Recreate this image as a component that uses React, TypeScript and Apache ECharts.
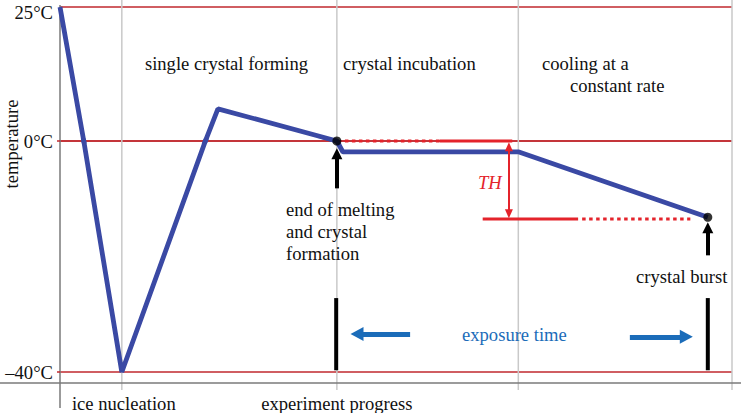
import React, { useEffect, useRef } from 'react';
import * as echarts from 'echarts';

// ---- data (schematic: progress 0..100, temperature °C) ----
const phaseBounds = [9.2, 41.2, 68.2, 100];
const profileX = [0, 9.2, 23.5, 41.2, 42.1, 68.3, 96.4];
const profileT = [25, -40, 6, 0, -1.9, -1.9, -13.2];
const meltPoint = [41.2, 0];
const burstPoint = [96.4, -13.2];
const thLevel = -13.5;
const thUpperDotted = [42.4, 56.5];
const thUpperSolid = [56.5, 67.3];
const thLowerSolid = [62.9, 77.1];
const thLowerDotted = [77.7, 93.8];
const thArrowX = 66.8;
const thArrowT = [-1.0, -12.6];
const meltArrowT = [-8.2, -2.2];
const burstArrowT = [-19.8, -15.0];
const exposureBarX = [41.1, 96.4];
const exposureBarT = [-27.2, -39.7];
const leftArrowX = [52.1, 44.2];
const rightArrowX = [84.8, 93.2];
const exposureArrowT = [-33.4, -33.9];
const topTemp = 25;

const FONT = '"Liberation Serif", "Times New Roman", serif';
const RED_THIN = '#c0282e';
const RED = '#e4232b';
const BLUE = '#3a49a4';
const EXPO = '#1b6cb9';
const FS = 18.6;

export default function App() {
  const ref = useRef<HTMLDivElement>(null);
  useEffect(() => {
    const chart = echarts.init(ref.current!, null, { renderer: 'svg' });
    const profile = profileX.map((x, i) => [x, profileT[i]]);
    const lower = { xAxisIndex: 1, yAxisIndex: 1 };
    const seg = (xs: number[], t: number) => xs.map((x) => [x, t]);
    const arrow = (from: number[], to: number[], color: string, width: number, size: number[], both = false) => ({
      type: 'line', ...lower, data: [], clip: false, silent: true,
      markLine: {
        silent: true, animation: false,
        symbol: [both ? 'triangle' : 'none', 'triangle'],
        symbolSize: size,
        label: { show: false },
        lineStyle: { color, width, type: 'solid' },
        emphasis: { disabled: true },
        data: [[{ coord: from }, { coord: to }]],
      },
    });
    const labelFmt = (v: number) => (v < 0 ? '–' + Math.abs(v) : String(v)) + '°C';
    const labelStyle = { formatter: labelFmt, fontFamily: FONT, fontSize: FS, color: '#111', margin: 7 };
    const yCommon = {
      type: 'value',
      axisLine: { show: false },
      axisTick: { show: true, length: 3, lineStyle: { color: RED_THIN, width: 1.5 } },
      splitLine: { show: true, lineStyle: { color: RED_THIN, width: 1.5 } },
    };
    chart.setOption({
      animation: false,
      grid: [
        { left: 60, top: 7, width: 672, height: 134 },
        { left: 60, top: 141, width: 672, height: 231 },
      ],
      xAxis: [0, 1].map((i) => ({ type: 'value', gridIndex: i, min: 0, max: 100, show: false })),
      yAxis: [
        { ...yCommon, gridIndex: 0, min: 0, max: topTemp, interval: topTemp, axisLabel: { ...labelStyle, showMaxLabel: false } },
        { ...yCommon, gridIndex: 1, min: -40, max: 0, interval: 40, axisLabel: { ...labelStyle, showMaxLabel: false } },
      ],
      series: [
        { type: 'line', xAxisIndex: 0, yAxisIndex: 0, data: profile, clip: true, symbol: 'none', lineStyle: { color: BLUE, width: 4.8 }, z: 3 },
        { type: 'line', ...lower, data: profile, clip: true, symbol: 'none', lineStyle: { color: BLUE, width: 4.8 }, z: 3 },
        { type: 'line', ...lower, data: seg(thUpperDotted, 0), clip: false, symbol: 'none', lineStyle: { color: RED, width: 3, type: [3.5, 3.5] }, z: 4 },
        { type: 'line', ...lower, data: seg(thUpperSolid, 0), clip: false, symbol: 'none', lineStyle: { color: RED, width: 3 }, z: 4 },
        { type: 'line', ...lower, data: seg(thLowerSolid, thLevel), clip: false, symbol: 'none', lineStyle: { color: RED, width: 3 }, z: 4 },
        { type: 'line', ...lower, data: seg(thLowerDotted, thLevel), clip: false, symbol: 'none', lineStyle: { color: RED, width: 3, type: [3.5, 3.5] }, z: 4 },
        ...exposureBarX.map((x) => ({
          type: 'line', ...lower, data: exposureBarT.map((t) => [x, t]), clip: false, symbol: 'none',
          lineStyle: { color: '#000', width: 4 }, z: 4,
        })),
        { type: 'scatter', ...lower, data: [meltPoint, burstPoint], clip: false, symbol: 'circle', symbolSize: 9, itemStyle: { color: '#000' }, z: 5 },
        arrow([thArrowX, thArrowT[0]], [thArrowX, thArrowT[1]], RED, 2, [8, 9], true),
        arrow([meltPoint[0], meltArrowT[0]], [meltPoint[0], meltArrowT[1]], '#000', 4, [11, 11]),
        arrow([burstPoint[0], burstArrowT[0]], [burstPoint[0], burstArrowT[1]], '#000', 4, [11, 11]),
        arrow([leftArrowX[0], exposureArrowT[0]], [leftArrowX[1], exposureArrowT[0]], EXPO, 5, [14, 13]),
        arrow([rightArrowX[0], exposureArrowT[1]], [rightArrowX[1], exposureArrowT[1]], EXPO, 5, [14, 13]),
      ],
    });

    const px = (x: number, t: number) => chart.convertToPixel({ xAxisIndex: 1, yAxisIndex: 1 } as any, [x, t]) as number[];
    const pxTop = (x: number, t: number) => chart.convertToPixel({ xAxisIndex: 0, yAxisIndex: 0 } as any, [x, t]) as number[];
    const axisX = px(0, 0)[0];
    const txt = (text: string, x: number, y: number, extra: any = {}) => ({
      type: 'text', x, y, z: 10, silent: true,
      style: {
        text, fontFamily: FONT, fontSize: FS, fill: '#111',
        align: 'left', textAlign: 'left', verticalAlign: 'middle', textVerticalAlign: 'middle',
        ...extra,
      },
    });
    const gray = (x1: number, y1: number, x2: number, y2: number, color: string, w: number) => ({
      type: 'line', z: 0, silent: true, shape: { x1, y1, x2, y2 }, style: { stroke: color, lineWidth: w },
    });
    const graphic: any[] = [
      ...phaseBounds.map((b) => { const x = px(b, 0)[0]; return gray(x, 0, x, 390, '#c9c9c9', 1.5); }),
      gray(axisX, 5, axisX, 408, '#7a7a7a', 1.5),
      gray(0, 383, 741, 383, '#7a7a7a', 1.5),
      txt(labelFmt(topTemp), axisX - 7, pxTop(0, topTemp)[1] + 5, { align: 'right', textAlign: 'right' }),
      txt('single crystal forming', 226.5, 63, { align: 'center', textAlign: 'center' }),
      txt('crystal incubation', 343, 63),
      txt('cooling at a', 542, 63),
      txt('constant rate', 570, 85),
      txt('end of melting', 286, 209),
      txt('and crystal', 286, 231.5),
      txt('formation', 286, 253),
      txt('crystal burst', 636, 276),
      txt('exposure time', 462, 334, { fill: EXPO }),
      txt('TH', 478, 182, { fill: RED, fontStyle: 'italic' }),
      txt('ice nucleation', px(phaseBounds[0], 0)[0] + 2, 403, { align: 'center', textAlign: 'center' }),
      txt('experiment progress', px(phaseBounds[1], 0)[0], 403, { align: 'center', textAlign: 'center' }),
      { ...txt('temperature', 11, 144, { align: 'center', textAlign: 'center' }), rotation: Math.PI / 2 },
    ];
    chart.setOption({ graphic });
    return () => chart.dispose();
  }, []);
  return <div ref={ref} style={{ width: 741, height: 413, position: 'absolute', left: 0, top: 0 }} />;
}
